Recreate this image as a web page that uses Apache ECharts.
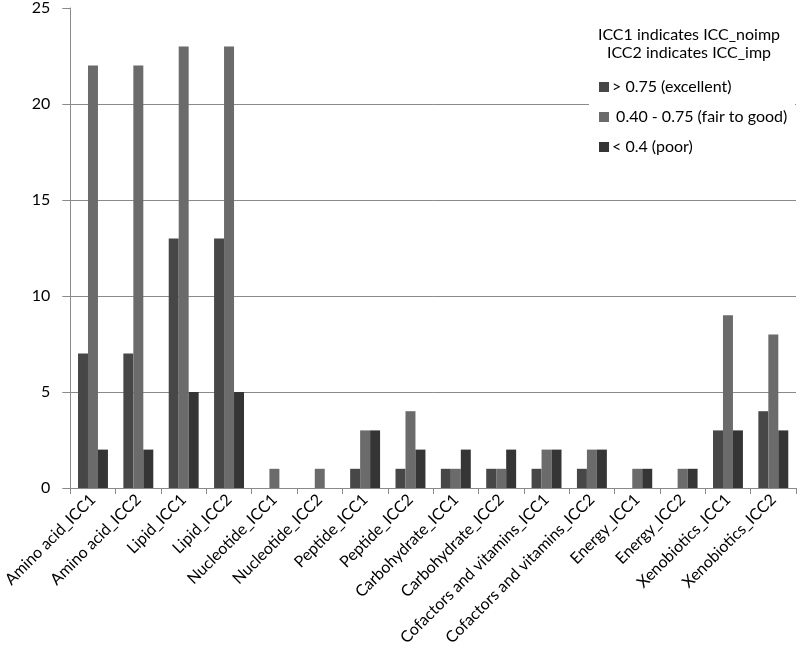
<!DOCTYPE html>
<html><head><meta charset="utf-8">
<script src="https://cdn.jsdelivr.net/npm/echarts@6/dist/echarts.min.js"></script>
<style>html,body{margin:0;padding:0;background:#fff}#c{width:800px;height:660px}</style>
</head><body><div id="c"></div>
<script>
var categories = ['Amino acid_ICC1','Amino acid_ICC2','Lipid_ICC1','Lipid_ICC2','Nucleotide_ICC1','Nucleotide_ICC2','Peptide_ICC1','Peptide_ICC2','Carbohydrate_ICC1','Carbohydrate_ICC2','Cofactors and vitamins_ICC1','Cofactors and vitamins_ICC2','Energy_ICC1','Energy_ICC2','Xenobiotics_ICC1','Xenobiotics_ICC2'];
var excellent = [7,7,13,13,0,0,1,1,1,1,1,1,0,0,3,4];
var fairGood  = [22,22,23,23,1,1,3,4,1,1,2,2,1,1,9,8];
var poor      = [2,2,5,5,0,0,3,2,2,2,2,2,1,1,3,3];
var seriesNames = ['> 0.75 (excellent)',' 0.40 - 0.75 (fair to good)','< 0.4 (poor)'];
var legendTitle = ['ICC1 indicates ICC_noimp','ICC2 indicates ICC_imp'];

var FONT = 'Lato';
var colors = ['#474747','#6b6b6b','#353535'];
var chart = echarts.init(document.getElementById('c'), null, {renderer:'canvas'});
function mk(name, data, i){
  return {name:name, type:'bar', data:data, barGap:'0%', barCategoryGap:'34%',
    itemStyle:{color:colors[i]}, silent:true};
}
chart.setOption({
  animation:false,
  textStyle:{fontFamily:FONT},
  grid:{left:69,right:4,top:7,bottom:172,containLabel:false},
  graphic:[
    {type:'rect', z:10, shape:{x:589,y:18,width:206,height:148}, style:{fill:'#fff'}},
    {type:'text', z:11, style:{x:689,y:26,text:legendTitle.join('\n'),align:'center',verticalAlign:'top',
      font:'16px '+FONT, fill:'#000', lineHeight:18}}
  ],
  legend:{orient:'vertical', left:594, top:74, itemWidth:10, itemHeight:10, itemGap:14, z:20,
    icon:'rect', textStyle:{fontFamily:FONT,fontSize:16,color:'#000',padding:[0,0,0,-2]}, data:seriesNames},
  xAxis:{type:'category', data:categories,
    axisLine:{lineStyle:{color:'#8a8a8a',width:1}},
    axisTick:{show:true, alignWithLabel:false, length:6, lineStyle:{color:'#8a8a8a'}},
    axisLabel:{rotate:45, interval:0, fontFamily:FONT, fontSize:16, color:'#000', margin:9}},
  yAxis:{type:'value', min:0, max:25, interval:5,
    axisLine:{show:true, lineStyle:{color:'#8a8a8a'}},
    axisTick:{show:true, length:8, lineStyle:{color:'#8a8a8a'}},
    splitLine:{lineStyle:{color:'#8a8a8a',width:1}, showMaxLine:false},
    axisLabel:{fontFamily:FONT, fontSize:16, color:'#000', margin:20}},
  series:[mk(seriesNames[0],excellent,0), mk(seriesNames[1],fairGood,1), mk(seriesNames[2],poor,2)]
});
</script></body></html>
